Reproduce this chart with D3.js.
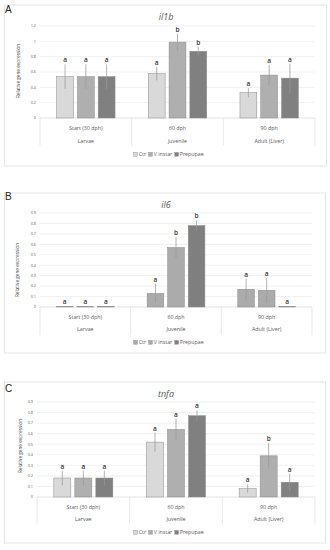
<!DOCTYPE html>
<html>
<head>
<meta charset="utf-8">
<script src="https://cdn.jsdelivr.net/npm/d3@7"></script>
<style>
  body { margin: 0; background: #fff; }
  svg { display: block; }
</style>
</head>
<body>
<div id="chart"></div>
<script>
// categories
const stages = ["Start (30 dph)", "60 dph", "90 dph"];
const stageGroups = ["Larvae", "Juvenile", "Adult (Liver)"];
const treatments = ["Ctr", "V instar", "Prepupae"];

// il1b: mean / SE / letters, one row per stage (Ctr, V instar, Prepupae)
const il1bMean = [[0.54, 0.54, 0.54], [0.58, 0.99, 0.87], [0.33, 0.56, 0.52]];
const il1bErr = [[0.16, 0.16, 0.16], [0.09, 0.11, 0.06], [0.06, 0.13, 0.19]];
const il1bLetters = [["a", "a", "a"], ["a", "b", "b"], ["a", "a", "a"]];

// il6
const il6Mean = [[0.005, 0.005, 0.005], [0.13, 0.57, 0.78], [0.17, 0.16, 0.005]];
const il6Err = [[0, 0, 0], [0.09, 0.1, 0.05], [0.1, 0.12, 0]];
const il6Letters = [["a", "a", "a"], ["a", "b", "b"], ["a", "a", "a"]];

// tnfa
const tnfaMean = [[0.18, 0.18, 0.18], [0.52, 0.64, 0.77], [0.08, 0.39, 0.14]];
const tnfaErr = [[0.07, 0.07, 0.07], [0.09, 0.1, 0.05], [0.04, 0.12, 0.08]];
const tnfaLetters = [["a", "a", "a"], ["a", "a", "a"], ["a", "b", "a"]];

const FONT = "'Open Sans', 'Liberation Sans', sans-serif";
const TEXT = "#595959";

const svg = d3
  .select("#chart")
  .append("svg")
  .attr("width", 330)
  .attr("height", 550);

const panels = [
  {
    letter: "A", gene: "il1b", mean: il1bMean, err: il1bErr, letters: il1bLetters,
    colors: ["#d9d9d9", "#afafaf", "#808080"], yMax: 1.2, step: 0.2,
    frame: [4.5, 5, 326.5, 166], letterY: 12.7, titleY: 19.5,
    plot: [40, 26, 315, 118], lvl1Y: 130, lvl2Y: 143, lineB: 146, legendY: 156,
    ylab: [18, 71],
  },
  {
    letter: "B", gene: "il6", mean: il6Mean, err: il6Err, letters: il6Letters,
    colors: ["#ababab", "#ababab", "#7f7f7f"], yMax: 0.9, step: 0.1,
    frame: [4.5, 193, 325.5, 353], letterY: 200, titleY: 208,
    plot: [40, 213, 312, 307], lvl1Y: 319, lvl2Y: 331, lineB: 335, legendY: 344,
    ylab: [17, 270],
  },
  {
    letter: "C", gene: "tnfa", mean: tnfaMean, err: tnfaErr, letters: tnfaLetters,
    colors: ["#d9d9d9", "#afafaf", "#808080"], yMax: 0.9, step: 0.1,
    frame: [4.5, 382, 325.5, 543], letterY: 392, titleY: 397,
    plot: [37, 402, 315, 497], lvl1Y: 509, lvl2Y: 521, lineB: 524, legendY: 534,
    ylab: [20, 446],
  },
];

panels.forEach(drawPanel);

function drawPanel(p) {
  const g = svg.append("g");
  const [fx0, fy0, fx1, fy1] = p.frame;
  const [pl, pt, pr, pb] = p.plot;

  g.append("rect")
    .attr("x", fx0).attr("y", fy0)
    .attr("width", fx1 - fx0).attr("height", fy1 - fy0)
    .attr("fill", "#fff")
    .attr("stroke", "#d9d9d9")
    .attr("stroke-width", 0.7);

  g.append("text")
    .attr("x", 5).attr("y", p.letterY)
    .text(p.letter)
    .attr("font-family", "'Liberation Sans', sans-serif")
    .attr("font-size", "10px")
    .attr("fill", "#222");

  g.append("text")
    .attr("x", 166).attr("y", p.titleY)
    .attr("text-anchor", "middle")
    .text(p.gene)
    .attr("font-family", FONT)
    .attr("font-style", "italic")
    .attr("font-size", "9px")
    .attr("fill", TEXT);

  const y = d3.scaleLinear().domain([0, p.yMax]).range([pb, pt]);
  const ticks = d3.range(0, Math.round(p.yMax / p.step) + 1).map((i) => +(i * p.step).toFixed(1));

  g.selectAll(".grid")
    .data(ticks)
    .enter()
    .append("line")
    .attr("x1", pl).attr("x2", pr)
    .attr("y1", (d) => y(d)).attr("y2", (d) => y(d))
    .attr("stroke", (d) => (d === 0 ? "#d0d0d0" : "#e6e6e6"))
    .attr("stroke-width", 0.6);

  g.selectAll(".ytick")
    .data(ticks)
    .enter()
    .append("text")
    .attr("x", pl - 4)
    .attr("y", (d) => y(d) + 1.3)
    .attr("text-anchor", "end")
    .text((d) => String(d))
    .attr("font-family", FONT)
    .attr("font-size", "3.8px")
    .attr("fill", TEXT);

  g.append("text")
    .attr("transform", `translate(${p.ylab[0]},${p.ylab[1]}) rotate(-90)`)
    .attr("text-anchor", "middle")
    .attr("dy", "0.35em")
    .text("Relative gene expression")
    .attr("font-family", FONT)
    .attr("font-size", "4.7px")
    .attr("fill", "#404040");

  const x0 = d3.scaleBand().domain(stages).range([pl, pr]);
  const x1 = d3
    .scaleBand()
    .domain(treatments)
    .range([0, x0.bandwidth()])
    .paddingInner(0.19)
    .paddingOuter(0.8);

  // category boundaries
  const bounds = stages.map((s) => x0(s)).concat([pr]);
  g.selectAll(".sep")
    .data(bounds)
    .enter()
    .append("line")
    .attr("x1", (d) => d).attr("x2", (d) => d)
    .attr("y1", pb).attr("y2", p.lineB)
    .attr("stroke", "#d9d9d9")
    .attr("stroke-width", 0.6);

  stages.forEach((s, i) => {
    const cx = x0(s) + x0.bandwidth() / 2;
    g.append("text")
      .attr("x", cx).attr("y", p.lvl1Y)
      .attr("text-anchor", "middle")
      .text(s)
      .attr("font-family", FONT)
      .attr("font-size", "5.3px")
      .attr("fill", TEXT);
    g.append("text")
      .attr("x", cx).attr("y", p.lvl2Y)
      .attr("text-anchor", "middle")
      .text(stageGroups[i])
      .attr("font-family", FONT)
      .attr("font-size", "5.3px")
      .attr("fill", TEXT);
  });

  const rows = [];
  stages.forEach((s, i) => {
    treatments.forEach((t, j) => {
      rows.push({ stage: s, t: t, j: j, v: p.mean[i][j], e: p.err[i][j], l: p.letters[i][j] });
    });
  });

  const bars = g
    .selectAll(".bar")
    .data(rows)
    .enter()
    .append("g")
    .attr("transform", (d) => `translate(${x0(d.stage) + x1(d.t)},0)`);

  bars
    .append("rect")
    .attr("width", x1.bandwidth())
    .attr("y", (d) => y(d.v))
    .attr("height", (d) => Math.max(0.4, y(0) - y(d.v)))
    .attr("fill", (d) => p.colors[d.j])
    .attr("stroke", "#8a8a8a")
    .attr("stroke-width", 0.5);

  bars
    .filter((d) => d.e > 0)
    .append("line")
    .attr("x1", x1.bandwidth() / 2).attr("x2", x1.bandwidth() / 2)
    .attr("y1", (d) => y(d.v - d.e))
    .attr("y2", (d) => y(d.v + d.e))
    .attr("stroke", "#999")
    .attr("stroke-width", 0.75);

  bars
    .append("text")
    .attr("x", x1.bandwidth() / 2)
    .attr("y", (d) => y(d.v + d.e) - 2)
    .attr("text-anchor", "middle")
    .text((d) => d.l)
    .attr("font-family", FONT)
    .attr("font-size", "6.5px")
    .attr("font-weight", 600)
    .attr("fill", "#333");

  // legend
  const legend = g.append("g");
  let lx = 0;
  treatments.forEach((t, j) => {
    legend.append("rect")
      .attr("x", lx).attr("y", p.legendY - 3.6)
      .attr("width", 3.8).attr("height", 3.8)
      .attr("fill", p.colors[j])
      .attr("stroke", "#8a8a8a")
      .attr("stroke-width", 0.4);
    const txt = legend.append("text")
      .attr("x", lx + 5).attr("y", p.legendY)
      .text(t)
      .attr("font-family", FONT)
      .attr("font-size", "5.3px")
      .attr("fill", TEXT);
    lx += 5 + txt.node().getComputedTextLength() + 2.5;
  });
  legend.attr("transform", `translate(${170 - lx / 2},0)`);
}
</script>
</body>
</html>
